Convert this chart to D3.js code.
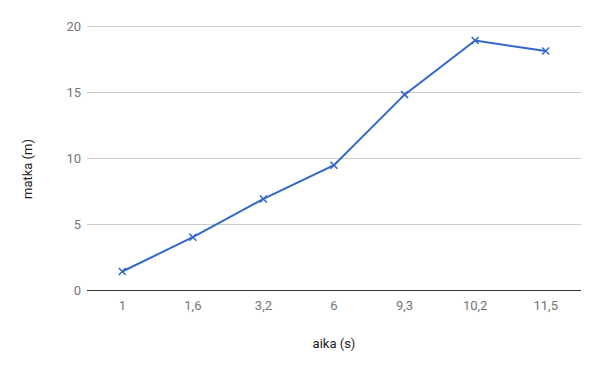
<!DOCTYPE html>
<html>
<head>
<meta charset="utf-8">
<script src="https://cdn.jsdelivr.net/npm/d3@7"></script>
<style>
  body { margin: 0; background: #fff; }
  svg { display: block; font-family: Roboto, Arial, sans-serif; }
</style>
</head>
<body>
<svg width="600" height="371"></svg>
<script>
(function(){
	'use strict';

	// data
	const categories = ['1', '1,6', '3,2', '6', '9,3', '10,2', '11,5'];
	const distances = [1.4, 4.0, 6.9, 9.45, 14.8, 18.9, 18.1];
	const yTicks = [0, 5, 10, 15, 20];
	const xTitle = 'aika (s)';
	const yTitle = 'matka (m)';

	const svg = d3.select('svg');
	const margin = { left: 87, right: 19, top: 26, bottom: 81 };
	const width = 600;
	const height = 371;

	const x = d3.scaleBand()
		.domain(categories)
		.range([margin.left, width - margin.right]);

	const y = d3.scaleLinear()
		.domain([0, 20])
		.range([height - margin.bottom, margin.top]);

	// gridlines
	svg.append('g')
		.selectAll('line')
		.data(yTicks.filter(d => d !== 0))
		.join('line')
			.attr('x1', margin.left)
			.attr('x2', width - margin.right)
			.attr('y1', d => Math.round(y(d)) + 0.5)
			.attr('y2', d => Math.round(y(d)) + 0.5)
			.attr('stroke', '#cccccc');

	// y labels
	svg.append('g')
		.selectAll('text')
		.data(yTicks)
		.join('text')
			.attr('x', margin.left - 6)
			.attr('y', d => y(d))
			.attr('dy', '0.35em')
			.attr('text-anchor', 'end')
			.attr('font-size', 13)
			.attr('fill', '#757575')
			.text(d => d);

	// baseline
	svg.append('line')
		.attr('x1', margin.left)
		.attr('x2', width - margin.right)
		.attr('y1', Math.round(y(0)) + 0.5)
		.attr('y2', Math.round(y(0)) + 0.5)
		.attr('stroke', '#333333');

	// x labels
	svg.append('g')
		.selectAll('text')
		.data(categories)
		.join('text')
			.attr('x', d => x(d) + x.bandwidth() / 2)
			.attr('y', 310)
			.attr('text-anchor', 'middle')
			.attr('font-size', 13)
			.attr('fill', '#757575')
			.text(d => d);

	// axis titles
	svg.append('text')
		.attr('x', (margin.left + width - margin.right) / 2)
		.attr('y', 348)
		.attr('text-anchor', 'middle')
		.attr('font-size', 13)
		.attr('fill', '#222222')
		.text(xTitle);

	svg.append('text')
		.attr('transform', `translate(32, 169) rotate(-90)`)
		.attr('text-anchor', 'middle')
		.attr('font-size', 13)
		.attr('fill', '#222222')
		.text(yTitle);

	const points = categories.map((c, i) => [x(c) + x.bandwidth() / 2, y(distances[i])]);

	// line
	svg.append('path')
		.attr('d', d3.line()(points))
		.attr('fill', 'none')
		.attr('stroke', '#3366cc')
		.attr('stroke-width', 2);

	// x markers
	const s = 3.5;
	svg.append('g')
		.selectAll('path')
		.data(points)
		.join('path')
			.attr('d', d => `M${d[0]-s},${d[1]-s}L${d[0]+s},${d[1]+s}M${d[0]-s},${d[1]+s}L${d[0]+s},${d[1]-s}`)
			.attr('stroke', '#3366cc')
			.attr('stroke-width', 1.5);
})();
</script>
</body>
</html>
